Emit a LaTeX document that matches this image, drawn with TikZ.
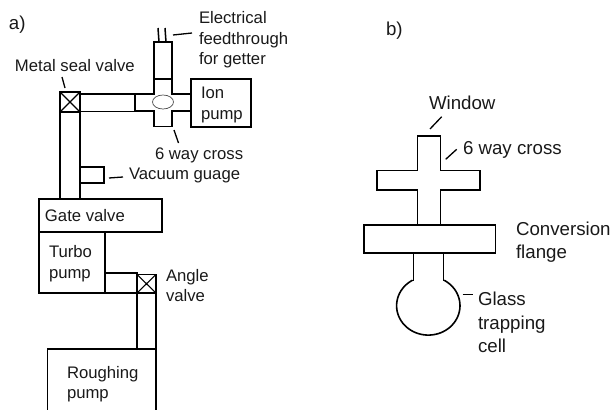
\documentclass[tikz,border=0pt]{standalone}
\usepackage{fontspec}
\setmainfont{Liberation Sans}
\usetikzlibrary{shapes.geometric}
\tikzset{
  wall/.style={draw=black,line width=1.6pt,line join=miter},
  thick wall/.style={draw=black,line width=1.9pt},
  thin wall/.style={draw=black,line width=1.1pt},
  wire/.style={draw=black,line width=1.5pt},
  box/.style={draw=black,line width=1.5pt,inner sep=0pt,outer sep=0pt},
  lead/.style={draw=black,line width=1.3pt},
  lbl/.style={anchor=west,inner sep=0pt,outer sep=0pt,align=left,text=black!90,
    font=\fontsize{16.7pt}{20.6pt}\selectfont},
  lblb/.style={lbl,font=\fontsize{18.7pt}{23.4pt}\selectfont},
}
\newcommand{\rbox}[5]{\node[box,anchor=north west,minimum width=#4pt-#2pt,minimum height=#5pt-#3pt] (#1) at (#2,#3) {};}
\begin{document}
\begin{tikzpicture}[x=1pt,y=-1pt]
\useasboundingbox (0,0) rectangle (611,410);
% ---- part a: tubes and boxes
\rbox{stub}{154}{42}{172}{79}
\rbox{ion}{191}{79}{251}{127}
\rbox{tubeh}{80}{94}{135}{111.5}
\rbox{tubev}{60}{112}{80}{199}
\rbox{gauge}{80}{167}{104}{183}
\rbox{gate}{39}{199}{162}{232}
\node[thick wall,inner sep=0pt,outer sep=0pt,anchor=north west,minimum width=66pt,minimum height=61pt] (turbo) at (39,232) {};
\rbox{tubet}{105.5}{273}{137}{293}
\draw[wall] (135,94) -- (154,94) -- (154,79) -- (172,79) -- (172,94) -- (191,94)
  -- (191,111) -- (172,111) -- (172,126.5) -- (154,126.5) -- (154,111) -- (135,111) -- cycle;
\node[draw=black!70,line width=.7pt,ellipse,minimum width=21pt,minimum height=14pt,inner sep=0pt] (port) at (163,102) {};
% metal seal valve
\node[thick wall,inner sep=0pt,outer sep=0pt,anchor=north west,minimum width=20pt,minimum height=20pt] (msv) at (60,92) {};
\draw[thin wall] (msv.north west) -- (msv.south east) (msv.north east) -- (msv.south west);
% angle valve
\rbox{av}{137}{274.5}{156}{293}
\draw[thin wall] (av.north west) -- (av.south east) (av.north east) -- (av.south west);
\rbox{tuber}{137}{293}{156}{349}
% roughing pump, cut by the lower edge
\coordinate (rl) at (47.5,411);
\coordinate (rt) at (47.5,349);
\coordinate (rr) at (156,349);
\coordinate (rb) at (156,411);
\draw[thick wall] (rl) -- (rt) -- (rr) -- (rb);
% feedthrough wires
\coordinate (w1a) at (158,28); \coordinate (w1b) at (159,42);
\coordinate (w2a) at (165,28); \coordinate (w2b) at (166,42);
\draw[wire] (w1a) -- (w1b);
\draw[wire] (w2a) -- (w2b);
% labels a
\node[lblb] (la) at (9,25) {a)};
\node[lbl] (lef) at (199,40) {Electrical\\feedthrough\\for getter};
\node[lbl] (lmsv) at (15,66) {Metal seal valve};
\node[lbl] (lion) at (201,105) {Ion\\pump};
\node[lbl] (l6a) at (155,155) {6 way cross};
\node[lbl] (lvg) at (129,175) {Vacuum guage};
\node[lbl] (lgate) at (45,216) {Gate valve};
\node[lbl] (ltp) at (49,263.5) {Turbo\\pump};
\node[lbl] (lav) at (166,285.5) {Angle\\valve};
\node[lbl] (lrp) at (67,384) {Roughing\\pump};
% leaders a
\coordinate (c1) at (173,35); \coordinate (c2) at (192,33);
\draw[lead] (c1) -- (c2);
\coordinate (c3) at (62,77); \coordinate (c4) at (65,88);
\draw[lead] (c3) -- (c4);
\coordinate (c5) at (174,130); \coordinate (c6) at (178.5,143);
\draw[lead] (c5) -- (c6);
\coordinate (c7) at (109,178); \coordinate (c8) at (123,177);
\draw[lead] (c7) -- (c8);
% ---- part b
\draw[wall] (417.5,225) -- (417.5,190) -- (377,190) -- (377,170.5) -- (417.5,170.5) -- (417.5,136)
  -- (440.5,136) -- (440.5,170.5) -- (480,170.5) -- (480,190) -- (440.5,190) -- (440.5,225);
\node[draw=black,line width=1.1pt,inner sep=0pt,outer sep=0pt,anchor=north west,minimum width=131.5pt,minimum height=28pt] (flange) at (364,225) {};
\coordinate (n1) at (413.5,253); \coordinate (n2) at (413.5,280.5);
\coordinate (n3) at (443.5,253); \coordinate (n4) at (443.5,280.5);
\draw[wall] (n1) -- (n2) -- (412.3,280.5);
\draw[wall] (n3) -- (n4) -- (444.7,280.5);
\draw[wall,line width=1.6pt] plot[smooth,domain=120:420,samples=60] ({428.3+31.7*cos(\x)},{305.7-29.4*sin(\x)});
\node[lblb] (lb) at (386,31) {b)};
\node[lblb] (lw) at (429,103) {Window};
\node[lblb] (l6b) at (463,150) {6 way cross};
\node[lblb] (lcf) at (516,242) {Conversion\\flange};
\node[lblb] (lgt) at (478,322.5) {Glass\\trapping\\cell};
\coordinate (d1) at (430,129); \coordinate (d2) at (441.7,116.7);
\draw[lead] (d1) -- (d2);
\coordinate (d3) at (445.7,159.3); \coordinate (d4) at (456.7,149.3);
\draw[lead] (d3) -- (d4);
\coordinate (d5) at (462.7,294.3); \coordinate (d6) at (473.3,294.3);
\draw[lead] (d5) -- (d6);
\end{tikzpicture}
\end{document}
